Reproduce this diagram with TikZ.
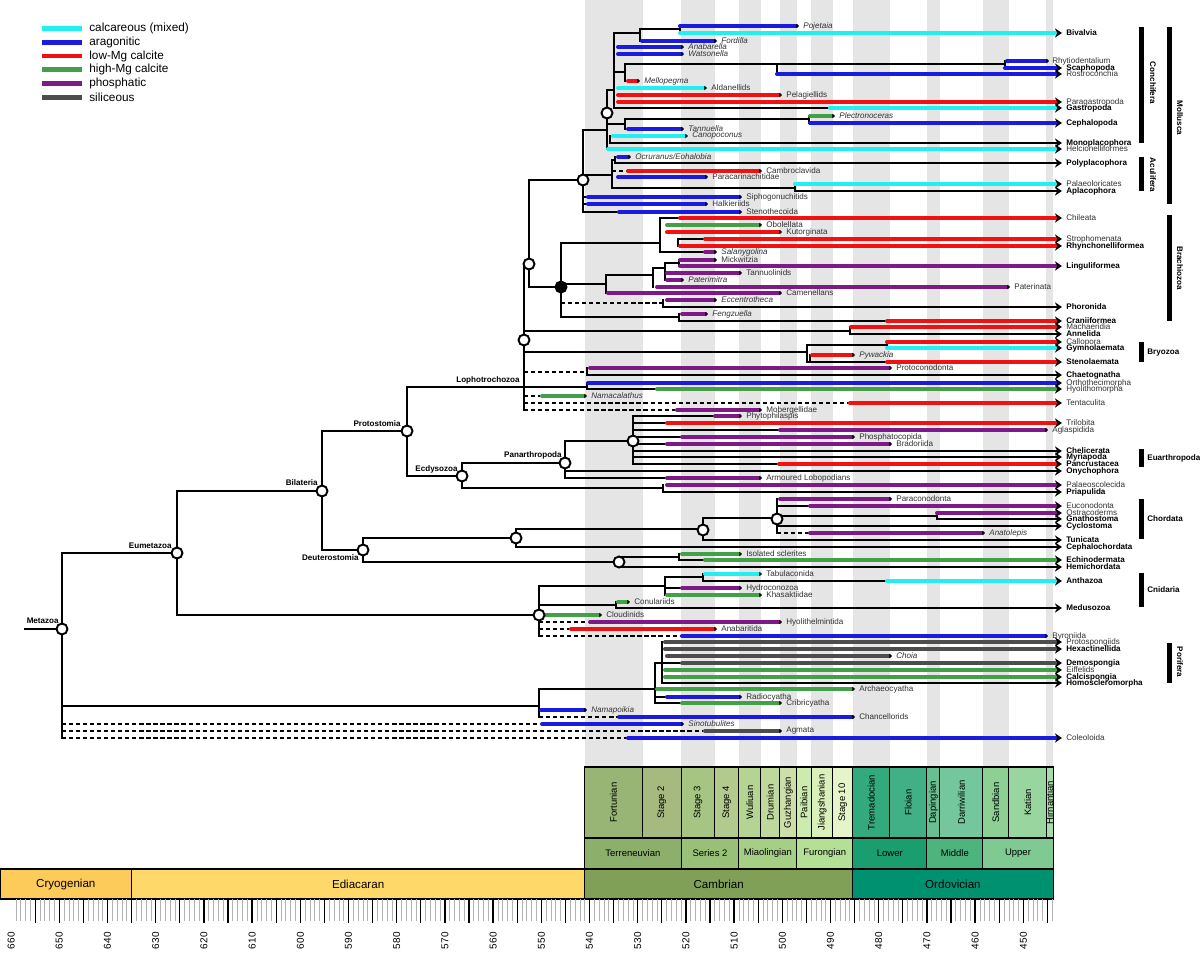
\documentclass[tikz,border=0pt]{standalone}
\usepackage{fontspec}
\setmainfont{Liberation Sans}
\usetikzlibrary{arrows.meta}

% skeletal mineralogy
\definecolor{cmix}{HTML}{22F0F0}
\definecolor{arag}{HTML}{1A1AE0}
\definecolor{lmgc}{HTML}{F21010}
\definecolor{hmgc}{HTML}{43A047}
\definecolor{phos}{HTML}{7E1A85}
\definecolor{sili}{HTML}{4D4D4D}
\definecolor{band}{HTML}{E5E5E5}
% time scale
\definecolor{cryo}{HTML}{FDCB5A}\definecolor{edia}{HTML}{FED96A}
\definecolor{camb}{HTML}{7FA056}\definecolor{ordo}{HTML}{009270}
\definecolor{eTer}{HTML}{8CB06C}\definecolor{eSe2}{HTML}{99C078}
\definecolor{eMia}{HTML}{A6CF86}\definecolor{eFur}{HTML}{B3E095}
\definecolor{eLow}{HTML}{1A9D6F}\definecolor{eMid}{HTML}{4DB47E}
\definecolor{eUpp}{HTML}{7FCA93}
\definecolor{sFor}{HTML}{99B575}\definecolor{sSt2}{HTML}{A6BA80}
\definecolor{sSt3}{HTML}{A6C583}\definecolor{sSt4}{HTML}{B3CA8E}
\definecolor{sWul}{HTML}{B3D492}\definecolor{sDru}{HTML}{BFD99D}
\definecolor{sGuz}{HTML}{CCDFAA}\definecolor{sPai}{HTML}{CCEBAE}
\definecolor{sJia}{HTML}{D9F0BB}\definecolor{sS10}{HTML}{E6F5C9}
\definecolor{sTre}{HTML}{33A97E}\definecolor{sFlo}{HTML}{41B087}
\definecolor{sDap}{HTML}{66C092}\definecolor{sDar}{HTML}{74C69C}
\definecolor{sSan}{HTML}{8CD094}\definecolor{sKat}{HTML}{99D69F}
\definecolor{sHir}{HTML}{A6DBAB}

\newcommand\fs{\fontsize{4.6}{5.2}\selectfont}
\newcommand\ax[1]{589.5+(540-#1)*4.82}
\newcommand\seg[4]{\draw[#1] (#2,#4) -- (#3,#4);}
\newcommand\vl[3]{\draw[br] (#1,#2) -- (#1,#3);}

\begin{document}
\begin{tikzpicture}[x=0.02cm,y=-0.02cm,
  br/.style={line width=1.1pt,line cap=rect},
  brd/.style={line width=1.1pt,dash pattern=on 2.4pt off 1.6pt},
  rg/.style={line width=2.3pt,line cap=round},
  live/.style={-{Stealth[black,length=4pt,width=5.2pt,inset=1.3pt]}},
  gone/.style={-{Triangle[black,length=1.5pt,width=2.3pt]}},
  lbl/.style={anchor=west,inner sep=0pt,font=\fs,text=black!80},
  nt/.style={},
  bt/.style={font=\fs\bfseries,text=black},
  it/.style={font=\fs\itshape},
  clade/.style={anchor=east,inner sep=0pt,font=\fs\bfseries},
  knot/.style={circle,draw,line width=1.1pt,fill=white,inner sep=0pt,minimum size=0.22cm},
  grp/.style={inner sep=0pt,font=\fs\bfseries}]

\useasboundingbox (0,0) rectangle (1200,969);
\fill[white] (0,0) rectangle (1200,969);

% stage bands
\foreach \a/\b in {541/529,521/514,509/504.5,500.5/497,494/489.5,485.4/477.7,470/467.3,458.4/453,445.2/443.8}
  \fill[band] ({\ax{\a}},0) rectangle ({\ax{\b}},767);

% legend
\foreach \c/\t [count=\i] in {cmix/calcareous (mixed),arag/aragonitic,lmgc/low-Mg calcite,hmgc/high-Mg calcite,phos/phosphatic,sili/siliceous}{
  \draw[\c,line width=2.7pt] (42,{15+13.7*\i}) -- (82,{15+13.7*\i});
  \node[anchor=west,inner sep=0pt,font=\fontsize{6.7}{7}\selectfont] (leg\i) at (89,{15+13.7*\i}) {\t};
}

% ---------------- time scale
\foreach \a/\b/\k/\n [count=\i] in {541/529/sFor/Fortunian,529/521/sSt2/Stage 2,521/514/sSt3/Stage 3,514/509/sSt4/Stage 4,509/504.5/sWul/Wuliuan,504.5/500.5/sDru/Drumian,500.5/497/sGuz/Guzhangian,497/494/sPai/Paibian,494/489.5/sJia/Jiangshanian,489.5/485.4/sS10/Stage 10,485.4/477.7/sTre/Tremadocian,477.7/470/sFlo/Floian,470/467.3/sDap/Dapingian,467.3/458.4/sDar/Darriwilian,458.4/453/sSan/Sandbian,453/445.2/sKat/Katian,445.2/443.8/sHir/Hirnantian}{
  \draw[fill=\k,line width=0.6pt] ({\ax{\a}},767) rectangle ({\ax{\b}},838);
  \node[rotate=90,inner sep=0pt,font=\fontsize{5.4}{6}\selectfont] (stage\i) at ({\ax{(\a+\b)/2}},802.5) {\n};
}
\foreach \a/\b/\k/\n [count=\i] in {541/521/eTer/Terreneuvian,521/509/eSe2/Series 2,509/497/eMia/Miaolingian,497/485.4/eFur/Furongian,485.4/470/eLow/Lower,470/458.4/eMid/Middle,458.4/443.8/eUpp/Upper}{
  \draw[fill=\k,line width=0.6pt] ({\ax{\a}},838) rectangle ({\ax{\b}},869);
  \node[inner sep=0pt,font=\fontsize{5.4}{6}\selectfont] (series\i) at ({\ax{(\a+\b)/2}},853.5) {\n};
}
\foreach \a/\b/\k/\n [count=\i] in {662.3/635/cryo/Cryogenian,635/541/edia/Ediacaran,541/485.4/camb/Cambrian,485.4/443.8/ordo/Ordovician}{
  \draw[fill=\k,line width=0.6pt] ({\ax{\a}},869) rectangle ({\ax{\b}},899);
  \node[inner sep=0pt,font=\fontsize{6.6}{7}\selectfont] (period\i) at ({\ax{(\a+\b)/2}},884) {\n};
}
\foreach \a in {444,...,659}
  \draw[black!30,line width=0.4pt] ({\ax{\a}},899) -- ({\ax{\a}},921);
\foreach \a in {445,450,...,655}
  \draw[line width=0.7pt] ({\ax{\a}},899) -- ({\ax{\a}},923);
\foreach \a in {450,460,...,660}
  \node[rotate=90,anchor=east,inner sep=0pt,font=\fontsize{5.7}{6}\selectfont] (age\a) at ({\ax{\a}},932) {\a};

% ---------------- deep backbone
\draw[br] (25,629) -- (62,629);
\vl{62}{553}{738}
\seg{br}{62}{177}{553}
\vl{177}{491}{615}
\seg{br}{177}{322}{491}
\seg{br}{177}{539}{615}
\vl{322}{431}{550}
\seg{br}{322}{407}{431}
\seg{br}{322}{363}{550}
\vl{407}{387}{476}
\seg{br}{407}{587}{387}
\seg{br}{407}{462}{476}
\vl{462}{463}{488}
\seg{br}{462}{565}{463}
\seg{br}{462}{663}{488}
\vl{565}{441}{478}
\seg{br}{565}{633}{441}
\vl{363}{538}{562}
\seg{br}{363}{516}{538}
\seg{br}{363}{619}{562}

% ---------------- Lophotrochozoa backbone
\vl{524}{264}{410}
\vl{529}{180}{287}
\seg{br}{529}{583}{180}
\seg{br}{529}{561}{287}

% Mollusca
\vl{583}{130}{212}
\seg{br}{583}{607}{130}
\seg{br}{583}{612}{175}
\vl{614}{33}{108}
\seg{br}{614}{640}{33}
\vl{640}{29}{41}
\seg{br}{640}{680}{29}
\vl{680}{26}{33}
\seg{rg,arag,gone}{680}{799}{26}
\seg{rg,cmix,live}{680}{1062}{33}
\seg{rg,arag,gone}{642}{717}{41}
\seg{rg,arag,gone}{618}{684}{47}
\seg{rg,arag,gone}{618}{684}{54}
\seg{br}{614}{625}{72}
\vl{625}{64}{81}
\seg{br}{625}{1005}{64}
\vl{777}{64}{74}
\vl{1005}{61}{68}
\seg{rg,arag,gone}{1007}{1049}{61}
\seg{rg,arag,live}{1005}{1062}{68}
\seg{rg,arag,live}{777}{1062}{74}
\seg{rg,lmgc,gone}{628}{640}{81}
\seg{rg,cmix,gone}{618}{707}{88}
\seg{rg,lmgc,gone}{618}{782}{95}
\seg{rg,lmgc,live}{618}{1062}{102}
\seg{br}{614}{830}{108}
\seg{rg,cmix,live}{830}{1062}{108}
\vl{607}{90}{149}
\seg{br}{607}{614}{90}
\seg{br}{607}{625}{124}
\vl{625}{119}{129}
\seg{br}{625}{809}{119}
\vl{809}{116}{123}
\seg{rg,hmgc,gone}{810}{835}{116}
\seg{rg,arag,live}{810}{1062}{123}
\seg{rg,arag,gone}{628}{684}{129}
\vl{610}{136}{143}
\seg{rg,cmix,gone}{613}{688}{136}
\seg{br,live}{610}{1062}{143}
\seg{rg,cmix,live}{608}{1062}{149}
\vl{612}{160}{188}
\vl{615}{157}{163}
\seg{br}{612}{615}{160}
\seg{rg,arag,gone}{618}{631}{157}
\seg{br,live}{615}{1062}{163}
\seg{brd}{612}{627}{171}
\seg{rg,lmgc,gone}{628}{762}{171}
\seg{rg,arag,gone}{618}{708}{177}
\seg{br}{612}{795}{188}
\vl{795}{184}{191}
\seg{rg,cmix,live}{795}{1062}{184}
\seg{br,live}{795}{1062}{191}
\seg{br}{583}{588}{197}
\seg{rg,arag,gone}{588}{742}{197}
\seg{br}{583}{588}{204}
\seg{rg,arag,gone}{588}{708}{204}
\seg{br}{583}{619}{212}
\seg{rg,arag,gone}{619}{742}{212}

% Brachiozoa
\vl{561}{243}{317}
\seg{br}{561}{660}{243}
\vl{660}{218}{252}
\seg{br}{660}{680}{218}
\seg{rg,lmgc,live}{680}{1062}{218}
\seg{rg,hmgc,gone}{667}{762}{225}
\seg{rg,lmgc,gone}{667}{782}{232}
\vl{678}{239}{246}
\seg{br}{678}{705}{239}
\seg{rg,lmgc,live}{705}{1062}{239}
\seg{rg,lmgc,live}{680}{1062}{246}
\seg{br}{660}{705}{252}
\seg{rg,phos,gone}{705}{717}{252}
\seg{br}{561}{606}{284}
\vl{606}{275}{293}
\seg{rg,phos,gone}{608}{782}{293}
\seg{br}{606}{653}{275}
\vl{653}{268}{287}
\seg{rg,phos,gone}{657}{1010}{287}
\seg{br}{653}{665}{268}
\vl{665}{263}{280}
\seg{rg,phos,gone}{667}{742}{273}
\seg{rg,phos,gone}{667}{684}{280}
\seg{br}{665}{679}{263}
\vl{679}{260}{266}
\seg{rg,phos,gone}{680}{717}{260}
\seg{rg,phos,live}{680}{1062}{266}
\seg{brd}{561}{663}{303}
\vl{663}{300}{307}
\seg{rg,phos,gone}{667}{717}{300}
\seg{br,live}{663}{1062}{307}
\seg{br}{561}{679}{317}
\vl{679}{314}{321}
\seg{rg,phos,gone}{682}{708}{314}
\seg{br}{679}{887}{321}
\seg{rg,lmgc,live}{887}{1062}{321}

% annelids, bryozoans and the rest
\seg{br}{524}{850}{331}
\vl{850}{327}{334}
\seg{rg,lmgc,live}{851}{1062}{327}
\seg{br,live}{850}{1062}{334}
\seg{br}{524}{807}{352}
\vl{807}{345}{362}
\seg{br}{807}{887}{345}
\vl{887}{342}{348}
\seg{rg,lmgc,live}{887}{1062}{342}
\seg{rg,cmix,live}{887}{1062}{348}
\vl{810}{355}{362}
\seg{rg,lmgc,gone}{812}{855}{355}
\seg{br}{807}{887}{362}
\seg{rg,lmgc,live}{887}{1062}{362}
\seg{brd}{524}{587}{372}
\vl{587}{368}{375}
\seg{rg,phos,gone}{590}{892}{368}
\seg{br,live}{587}{1062}{375}
\vl{587}{383}{389}
\seg{rg,arag,live}{588}{1062}{383}
\seg{br}{587}{657}{389}
\seg{rg,hmgc,live}{657}{1062}{389}
\seg{brd}{524}{540}{396}
\seg{rg,hmgc,gone}{542}{587}{396}
\seg{brd}{524}{850}{403}
\seg{rg,lmgc,live}{850}{1062}{403}
\seg{brd}{524}{675}{410}
\seg{rg,phos,gone}{677}{762}{410}

% Ecdysozoa
\vl{633}{416}{464}
\seg{br}{633}{715}{416}\seg{rg,phos,gone}{715}{742}{416}
\seg{br}{633}{667}{423}\seg{rg,lmgc,live}{667}{1062}{423}
\seg{br}{633}{780}{430}\seg{rg,phos,gone}{780}{1048}{430}
\seg{br}{633}{682}{437}\seg{rg,phos,gone}{682}{855}{437}
\seg{br}{633}{667}{444}\seg{rg,phos,gone}{667}{892}{444}
\seg{br,live}{633}{1062}{451}
\seg{br,live}{633}{1062}{457}
\seg{br}{633}{779}{464}\seg{rg,lmgc,live}{779}{1062}{464}
\seg{br,live}{565}{1062}{471}
\seg{br}{565}{667}{478}\seg{rg,phos,gone}{667}{762}{478}
\vl{663}{485}{492}
\seg{rg,phos,live}{667}{1062}{485}
\seg{br,live}{663}{1062}{492}

% Deuterostomia
\vl{516}{529}{547}
\seg{br}{516}{703}{529}
\seg{br,live}{516}{1062}{547}
\vl{703}{518}{540}
\seg{br}{703}{777}{518}
\seg{br,live}{703}{1062}{540}
\vl{777}{499}{533}
\seg{rg,phos,gone}{780}{892}{499}
\seg{br}{777}{810}{506}\seg{rg,phos,live}{810}{1062}{506}
\seg{br}{777}{937}{516}
\vl{937}{513}{519}
\seg{rg,phos,live}{937}{1062}{513}
\seg{br,live}{937}{1062}{519}
\seg{br,live}{777}{1062}{526}
\seg{brd}{777}{810}{533}\seg{rg,phos,gone}{810}{985}{533}
\vl{619}{557}{567}
\seg{br}{619}{679}{557}
\vl{679}{554}{560}
\seg{rg,hmgc,gone}{682}{742}{554}
\seg{br}{679}{705}{560}\seg{rg,hmgc,live}{705}{1062}{560}
\seg{br,live}{619}{1062}{567}

% Cnidaria and friends
\vl{539}{586}{636}
\seg{br}{539}{665}{586}
\vl{665}{577}{595}
\seg{br}{665}{703}{577}
\vl{703}{574}{581}
\seg{rg,cmix,gone}{705}{762}{574}
\seg{br}{703}{887}{581}\seg{rg,cmix,live}{887}{1062}{581}
\seg{br}{665}{682}{588}\seg{rg,phos,gone}{682}{742}{588}
\seg{rg,hmgc,gone}{667}{762}{595}
\seg{br}{539}{616}{605}
\vl{616}{602}{608}
\seg{rg,hmgc,gone}{618}{630}{602}
\seg{br,live}{616}{1062}{608}
\seg{rg,hmgc,gone}{545}{602}{615}
\seg{brd}{539}{588}{622}\seg{rg,phos,gone}{590}{782}{622}
\seg{brd}{539}{569}{629}\seg{rg,lmgc,gone}{571}{717}{629}
\seg{brd}{539}{682}{636}\seg{rg,arag,gone}{682}{1048}{636}

% Porifera and problematica
\seg{br}{62}{539}{706}
\vl{539}{689}{717}
\seg{br}{539}{655}{689}
\vl{655}{663}{703}
\seg{rg,hmgc,gone}{657}{855}{689}
\seg{br}{655}{662}{663}
\vl{662}{642}{683}
\seg{rg,sili,live}{665}{1062}{642}
\seg{rg,sili,live}{665}{1062}{649}
\seg{rg,sili,gone}{667}{892}{656}
\seg{br}{662}{682}{663}\seg{rg,sili,live}{682}{1062}{663}
\seg{rg,hmgc,live}{665}{1062}{670}
\seg{rg,hmgc,live}{665}{1062}{677}
\seg{br,live}{662}{1062}{683}
\seg{br}{655}{667}{697}\seg{rg,arag,gone}{667}{742}{697}
\seg{br}{655}{682}{703}\seg{rg,hmgc,gone}{682}{782}{703}
\seg{rg,arag,gone}{541}{587}{710}
\seg{brd}{539}{618}{717}\seg{rg,arag,gone}{619}{855}{717}
\seg{brd}{62}{539}{724}\seg{rg,arag,gone}{542}{684}{724}
\seg{brd}{62}{703}{731}\seg{rg,sili,gone}{705}{782}{731}
\seg{brd}{62}{628}{738}\seg{rg,arag,live}{628}{1062}{738}

% ---------------- nodes
\node[knot] (metazoa) at (62,629) {};
\node[knot] (eumetazoa) at (177,553) {};
\node[knot] (bilateria) at (322,491) {};
\node[knot] (protostomia) at (407,431) {};
\node[knot] (ecdysozoa) at (462,476) {};
\node[knot] (panarthropoda) at (565,463) {};
\node[knot] (euarthropoda) at (633,441) {};
\node[knot] (deuterostomia) at (363,550) {};
\node[knot] (olfactores) at (516,538) {};
\node[knot] (chordata) at (703,530) {};
\node[knot] (vertebrata) at (777,519) {};
\node[knot] (ambulacraria) at (619,562) {};
\node[knot] (cnidaria) at (539,615) {};
\node[knot] (lophoA) at (529,264) {};
\node[knot] (lophoB) at (524,340) {};
\node[knot] (mollusca) at (583,180) {};
\node[knot] (conchifera) at (607,113) {};
\node[knot,fill=black] (brachiozoa) at (561,287) {};

\node[clade] (lMetazoa) at (59,621) {Metazoa};
\node[clade] (lEumetazoa) at (172,546) {Eumetazoa};
\node[clade] (lBilateria) at (318,483) {Bilateria};
\node[clade] (lProtostomia) at (401,424) {Protostomia};
\node[clade] (lLopho) at (520,380) {Lophotrochozoa};
\node[clade] (lEcdysozoa) at (458,469) {Ecdysozoa};
\node[clade] (lPanarthropoda) at (562,455) {Panarthropoda};
\node[clade] (lDeuterostomia) at (359,558) {Deuterostomia};

% tip labels
\foreach \y/\t/\s in {33/Bivalvia/bt,68/Scaphopoda/bt,74/Rostroconchia/nt,102/Paragastropoda/nt,108/Gastropoda/bt,123/Cephalopoda/bt,143/Monoplacophora/bt,149/Helcionelliformes/nt,163/Polyplacophora/bt,184/Palaeoloricates/nt,191/Aplacophora/bt,218/Chileata/nt,239/Strophomenata/nt,246/Rhynchonelliformea/bt,266/Linguliformea/bt,307/Phoronida/bt,321/Craniiformea/bt,327/Machaeridia/nt,334/Annelida/bt,342/Callopora/nt,348/Gymnolaemata/bt,362/Stenolaemata/bt,375/Chaetognatha/bt,383/Orthothecimorpha/nt,389/Hyolithomorpha/nt,403/Tentaculita/nt,423/Trilobita/nt,450.5/Chelicerata/bt,457.5/Myriapoda/bt,464/Pancrustacea/bt,471/Onychophora/bt,485/Palaeoscolecida/nt,492/Priapulida/bt,506/Euconodonta/nt,513/Ostracoderms/nt,519/Gnathostoma/bt,526/Cyclostoma/bt,540/Tunicata/bt,547/Cephalochordata/bt,560/Echinodermata/bt,567/Hemichordata/bt,581/Anthazoa/bt,608/Medusozoa/bt,642/Protospongiids/nt,649/Hexactinellida/bt,663/Demospongia/bt,670/Eiffelids/nt,677/Calcispongia/bt,683/Homoscleromorpha/bt,738/Coleoloida/nt}
  \node[lbl,\s] (\t) at (1066,\y) {\t};

% labels of extinct lineages
\foreach \x/\y/\t/\s [count=\i] in {803/26/Pojetaia/it,721/41/Fordilla/it,688/47/Anabarella/it,688/54/Watsonella/it,1052/61/Rhytiodentalium/nt,644/81/Mellopegma/it,711/88/Aldanellids/nt,786/95/Pelagiellids/nt,839/116/Plectronoceras/it,688/129/Tannuella/it,692/136/Canopoconus/it,635/157/{Ocruranus/Eohalobia}/it,766/171/Cambroclavida/nt,712/177/Paracarinachitidae/nt,746/197/Siphogonuchitids/nt,712/204/Halkieriids/nt,746/212/Stenothecoida/nt,766/225/Obolellata/nt,786/232/Kutorginata/nt,721/252/Salanygolina/it,721/260/Mickwitzia/nt,746/273/Tannuolinids/nt,688/280/Paterimitra/it,1014/287/Paterinata/nt,786/293/Camenellans/nt,721/300/Eccentrotheca/it,712/314/Fengzuella/it,859/355/Pywackia/it,896/368/Protoconodonta/nt,591/396/Namacalathus/it,766/410/Mobergellidae/nt,746/416/Phytophilaspis/nt,1052/430/Aglaspidida/nt,859/437/Phosphatocopida/nt,896/444/Bradoriida/nt,766/478/Armoured Lobopodians/nt,896/499/Paraconodonta/nt,989/533/Anatolepis/it,746/554/Isolated sclerites/nt,766/574/Tabulaconida/nt,746/588/Hydroconozoa/nt,766/595/Khasaktiidae/nt,634/602/Conulariids/nt,606/615/Cloudinids/nt,786/622/Hyolithelmintida/nt,721/629/Anabaritida/nt,1052/636/Byroniida/nt,896/656/Choia/it,859/689/Archaeocyatha/nt,746/697/Radiocyatha/nt,786/703/Cribricyatha/nt,591/710/Namapoikia/it,859/717/Chancellorids/nt,688/724/Sinotubulites/it,786/731/Agmata/nt}
  \node[lbl,\s] (ext\i) at (\x,\y) {\t};

% clade bars on the right
\fill (1139,27) rectangle (1144,143);
\node[grp,rotate=-90] (conchifera-l) at (1153,83) {Conchifera};
\fill (1167,27) rectangle (1172,204);
\node[grp,rotate=-90] (mollusca-l) at (1180,118) {Mollusca};
\fill (1139,157) rectangle (1144,191);
\node[grp,rotate=-90] (aculifera-l) at (1153,175) {Aculifera};
\fill (1167,215) rectangle (1172,321);
\node[grp,rotate=-90] (brachiozoa-l) at (1180,268) {Brachiozoa};
\fill (1139,342) rectangle (1144,362);
\node[grp,anchor=west] (bryozoa-l) at (1147,353) {Bryozoa};
\fill (1139,449) rectangle (1144,467);
\node[grp,anchor=west] (euarthropoda-l) at (1147,458) {Euarthropoda};
\fill (1139,499) rectangle (1144,539);
\node[grp,anchor=west] (chordata-l) at (1147,519) {Chordata};
\fill (1139,573) rectangle (1144,607);
\node[grp,anchor=west] (cnidaria-l) at (1147,590) {Cnidaria};
\fill (1167,643) rectangle (1172,683);
\node[grp,rotate=-90] (porifera-l) at (1180,662) {Porifera};

\end{tikzpicture}
\end{document}
